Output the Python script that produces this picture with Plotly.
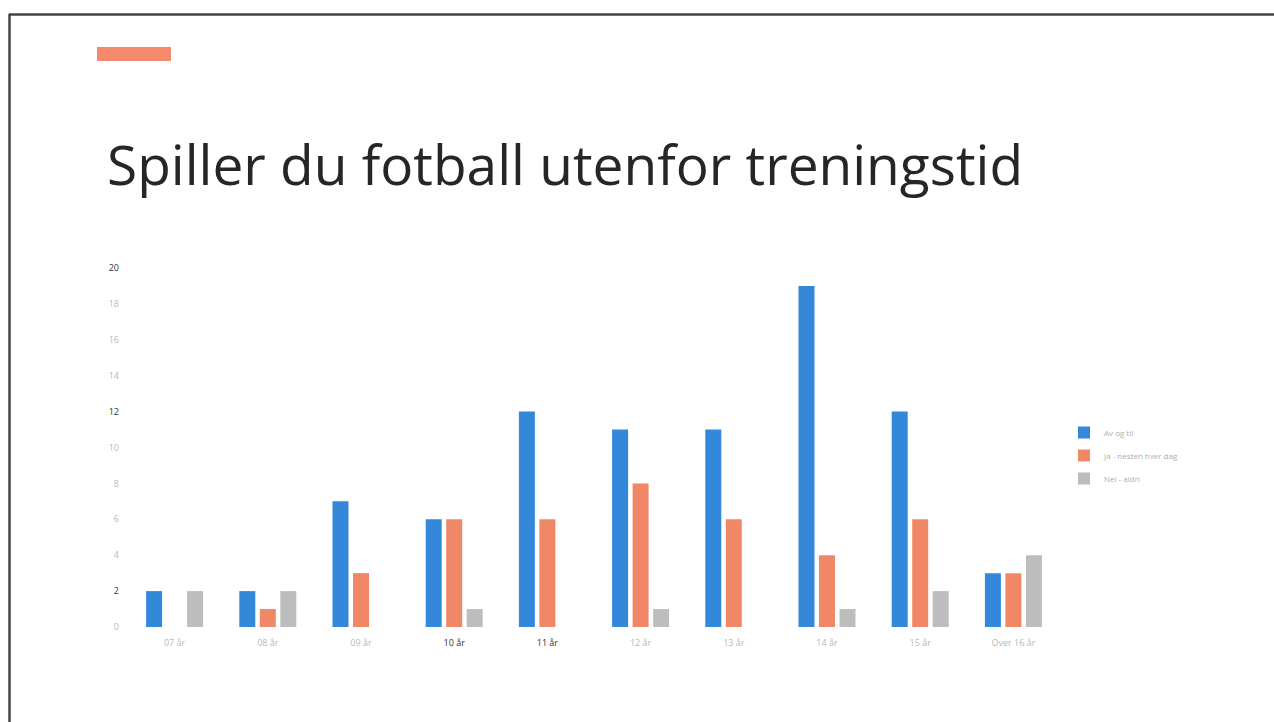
import plotly.graph_objects as go

categories = ["07 år", "08 år", "09 år", "10 år", "11 år", "12 år", "13 år", "14 år", "15 år", "Over 16 år"]
series_names = ["Av og til", "Ja - nesten hver dag", "Nei - aldri"]
av_og_til = [2, 2, 7, 6, 12, 11, 11, 19, 12, 3]
nesten_hver_dag = [0, 1, 3, 6, 6, 8, 6, 4, 6, 3]
aldri = [2, 2, 0, 1, 0, 1, 0, 1, 2, 4]
y_ticks = [0, 2, 4, 6, 8, 10, 12, 14, 16, 18, 20]
dark_y = {20, 12, 2}
dark_x = {"10 år", "11 år"}

colors = ["#3488DA", "#F08868", "#BDBDBD"]
values = [av_og_til, nesten_hver_dag, aldri]

fig = go.Figure()
for i, (name, vals, col) in enumerate(zip(series_names, values, colors)):
    fig.add_trace(go.Bar(x=categories, y=vals, name=name, marker_color=col,
                         marker_line_width=0, legendgroup=f"g{i}"))

faint = "#B8B8B8"
dark = "#333333"
x_text = [f"<span style='color:{dark if c in dark_x else faint}'>{c}</span>" for c in categories]
y_text = [f"<span style='color:{dark if t in dark_y else faint}'>{t}</span>" for t in y_ticks]

W, H = 1274, 722
OFF = 0  # page body margin (removed via post_script)
L, R, T, B = 128, 1060, 268, 627  # plot area in screen pixels
pw, ph = R - L, B - T

def px(x):
    return (x - L) / pw

def py(y):
    return (B - y) / ph

fig.update_layout(
    width=W, height=H,
    margin=dict(l=L - OFF, r=W - R + OFF, t=T - OFF, b=H - B + OFF, pad=0),
    paper_bgcolor="white", plot_bgcolor="white",
    barmode="group", bargap=0.34, bargroupgap=0.22,
    font=dict(family="Open Sans, sans-serif", size=9, color=faint),
    xaxis=dict(tickmode="array", tickvals=categories, ticktext=x_text,
               showgrid=False, showline=False, zeroline=False, ticks="",
               ticklabelstandoff=9, tickfont=dict(size=9)),
    yaxis=dict(range=[0, 20], tickmode="array", tickvals=y_ticks, ticktext=y_text,
               showgrid=False, showline=False, zeroline=False, ticks="",
               ticklabelstandoff=8, tickfont=dict(size=9)),
    legend=dict(x=px(1064), y=py(418), xanchor="left", yanchor="top",
                traceorder="grouped", tracegroupgap=4,
                font=dict(size=8, color="#ADADAD"), itemwidth=30,
                bgcolor="rgba(0,0,0,0)"),
    showlegend=True,
)

# Slide title
fig.add_annotation(text="Spiller du fotball utenfor treningstid",
                   xref="paper", yref="paper", x=px(105), y=py(164),
                   xanchor="left", yanchor="middle", showarrow=False,
                   font=dict(family="Open Sans, sans-serif", size=55, color="#262626"))

# Orange accent bar
fig.add_shape(type="rect", xref="paper", yref="paper",
              x0=px(97), x1=px(171), y0=py(61), y1=py(47),
              fillcolor="#F4896B", line_width=0)

# Frame lines (scan border)
fig.add_shape(type="line", xref="paper", yref="paper",
              x0=px(9), x1=px(1290), y0=py(14.5), y1=py(14.5),
              line=dict(color="#444444", width=2.5))
fig.add_shape(type="line", xref="paper", yref="paper",
              x0=px(9.5), x1=px(9.5), y0=py(14), y1=py(740),
              line=dict(color="#444444", width=2.5))

fig.write_html("out.html", config={"displayModeBar": False},
               post_script="document.body.style.margin='0';document.body.style.overflow='hidden';")
